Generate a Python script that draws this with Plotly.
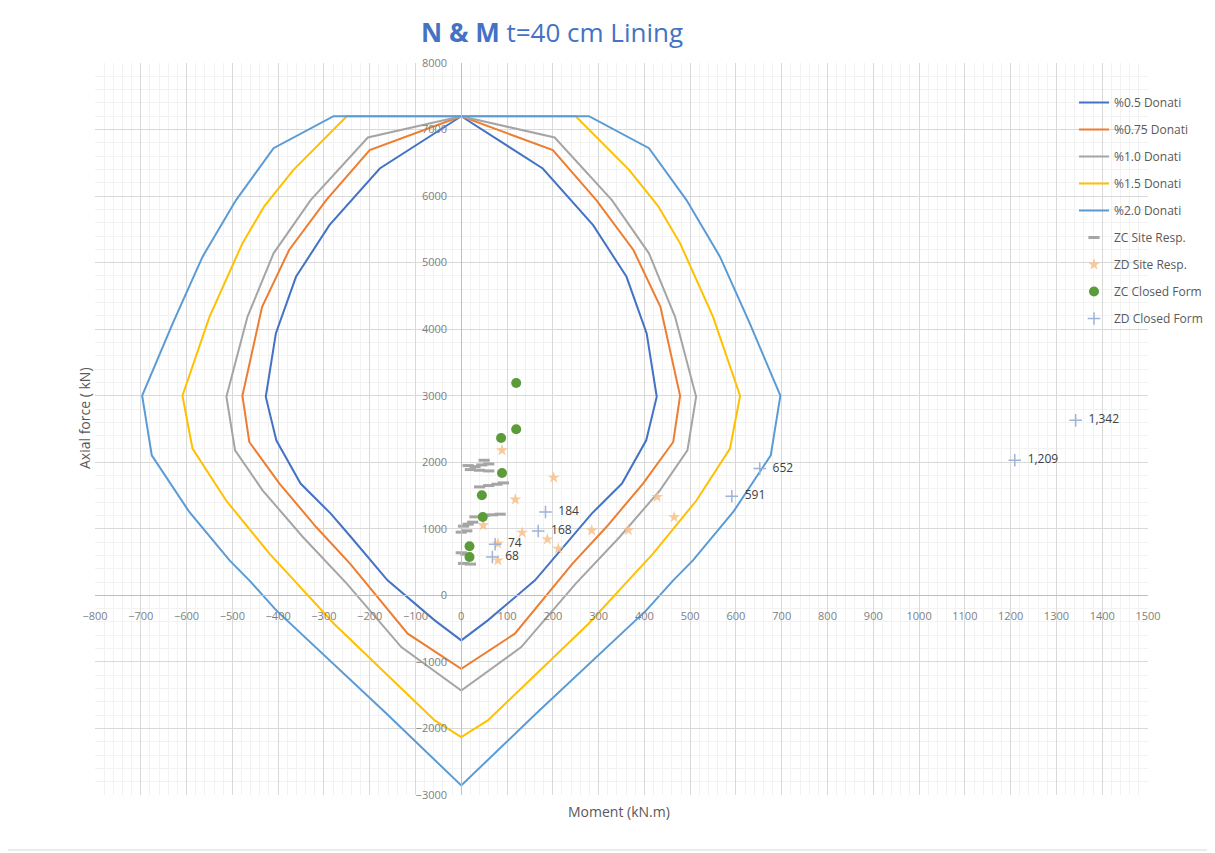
import plotly.graph_objects as go

# ---------------- data ----------------
# Interaction curves: Moment (kN.m) / Axial force (kN)
M_05 = [0, 178, 288, 361, 405, 427, 404, 351, 285, 241, 161, 58, 0, -58, -161, -241, -285, -351, -404, -427, -405, -361, -288, -178, 0]
N_05 = [7200, 6415, 5564, 4787, 3935, 2985, 2330, 1680, 1228, 877, 226, -376, -677, -376, 226, 877, 1228, 1680, 2330, 2985, 3935, 4787, 5564, 6415, 7200]

M_075 = [0, 200, 295, 376, 435, 478, 463, 397, 317, 243, 117, 0, -117, -243, -317, -397, -463, -478, -435, -376, -295, -200, 0]
N_075 = [7200, 6690, 5940, 5190, 4335, 3000, 2305, 1680, 1027, 476, -576, -1103, -576, 476, 1027, 1680, 2305, 3000, 4335, 5190, 5940, 6690, 7200]

M_10 = [0, 204, 329, 410, 467, 513, 494, 434, 346, 250, 131, 0, -131, -250, -346, -434, -494, -513, -467, -410, -329, -204, 0]
N_10 = [7200, 6880, 5940, 5140, 4185, 2985, 2180, 1579, 877, 176, -777, -1429, -777, 176, 877, 1579, 2180, 2985, 4185, 5140, 5940, 6880, 7200]

M_15 = [0, 250, 367, 430, 478, 550, 609, 587, 514, 419, 365, 278, 58, 0, -58, -278, -365, -419, -514, -587, -609, -550, -478, -430, -367, -250, 0]
N_15 = [7200, 7200, 6390, 5850, 5290, 4185, 3000, 2206, 1429, 627, 226, -426, -1880, -2130, -1880, -426, 226, 627, 1429, 2206, 3000, 4185, 5290, 5850, 6390, 7200, 7200]

M_20 = [0, 279, 410, 492, 565, 630, 697, 676, 594, 506, 463, 404, 163, 0, -163, -404, -463, -506, -594, -676, -697, -630, -565, -492, -410, -279, 0]
N_20 = [7200, 7200, 6720, 5940, 5090, 4090, 3000, 2105, 1253, 526, 226, -226, -1779, -2857, -1779, -226, 226, 526, 1253, 2105, 3000, 4090, 5090, 5940, 6720, 7200, 7200]

# Analysis results
ZC_site_M = [15, 30, 45, 60, 50, 20, 40, 60, 40, 60, 78, 92, 30, 50, 68, 85, 5, 15, 25, 0, 12, 0, 10, 5, 20]
ZC_site_N = [1950, 1935, 1960, 1975, 2030, 1890, 1880, 1870, 1630, 1650, 1670, 1690, 1180, 1200, 1210, 1220, 1040, 1070, 1100, 950, 970, 640, 620, 480, 470]

ZD_site_M = [89, 202, 118, 48, 133, 188, 212, 80, 80, 285, 365, 428, 465]
ZD_site_N = [2180, 1770, 1440, 1053, 943, 842, 702, 777, 526, 977, 980, 1480, 1175]

ZC_closed_M = [120, 120, 87, 89, 45, 47, 18, 18]
ZC_closed_N = [3192, 2496, 2366, 1840, 1504, 1178, 737, 576]

ZD_closed_M = [74, 68, 184, 168, 591, 652, 1209, 1342]
ZD_closed_N = [767, 576, 1253, 967, 1490, 1905, 2030, 2630]

curve_names = ["%0.5 Donati", "%0.75 Donati", "%1.0 Donati", "%1.5 Donati", "%2.0 Donati"]
curve_colors = ["#4472C4", "#ED7D31", "#A5A5A5", "#FFC000", "#5B9BD5"]
curves = [(M_05, N_05), (M_075, N_075), (M_10, N_10), (M_15, N_15), (M_20, N_20)]

X_RANGE = [-800, 1500]
Y_RANGE = [-3000, 8000]

FONT = "Open Sans"

# plot-area geometry in page pixels (page has an 8px body offset)
PL, PT, PW, PH = 95, 63, 1053, 732
OFF = 8
ML, MT = PL - OFF, PT - OFF
MR = 1215 - ML - PW
MB = 853 - MT - PH


def px(xp):
    return (xp - PL) / PW


def py(yp):
    return (PT + PH - yp) / PH


fig = go.Figure()

for i, ((m, n), name, col) in enumerate(zip(curves, curve_names, curve_colors)):
    fig.add_trace(go.Scatter(x=m, y=n, mode="lines", name=name,
                             line=dict(color=col, width=2),
                             legendgroup=f"g{i}"))

fig.add_trace(go.Scatter(x=ZC_site_M, y=ZC_site_N, mode="markers", name="ZC Site Resp.",
                         marker=dict(symbol="line-ew", size=8,
                                     line=dict(color="#A5A5A5", width=3), color="#A5A5A5"),
                         legendgroup="g5"))
fig.add_trace(go.Scatter(x=ZD_site_M, y=ZD_site_N, mode="markers", name="ZD Site Resp.",
                         marker=dict(symbol="star", size=9, color="#F7C08A", opacity=0.85),
                         legendgroup="g6"))
fig.add_trace(go.Scatter(x=ZC_closed_M, y=ZC_closed_N, mode="markers", name="ZC Closed Form",
                         marker=dict(symbol="circle", size=10, color="#5B9B3A"),
                         legendgroup="g7"))
fig.add_trace(go.Scatter(x=ZD_closed_M, y=ZD_closed_N, mode="markers+text", name="ZD Closed Form",
                         marker=dict(symbol="cross-thin-open", size=9, color="#9DB3D8",
                                     line=dict(color="#9DB3D8", width=1.5)),
                         texttemplate="\u00a0\u00a0%{x:,.0f}", textposition="middle right",
                         textfont=dict(family=FONT, size=12, color="#404040"),
                         cliponaxis=False, legendgroup="g8"))

axis_common = dict(
    showgrid=True, gridcolor="#D9D9D9", gridwidth=1,
    zeroline=False, showline=True, linecolor="#BFBFBF", linewidth=1,
    ticks="", tickfont=dict(family=FONT, size=11, color="#7F7F7F"),
    anchor="free", fixedrange=True,
)

fig.update_layout(
    width=1215, height=853,
    margin=dict(l=ML, r=MR, t=MT, b=MB, autoexpand=False),
    paper_bgcolor="white", plot_bgcolor="white",
    title=dict(text="<b>N & M</b> t=40 cm Lining", x=(552 - OFF) / 1215, xanchor="center",
               xref="container", y=1 - (33 - OFF) / 853, yanchor="middle", yref="container",
               font=dict(family=FONT, size=26, color="#4472C4")),
    xaxis=dict(range=X_RANGE, dtick=100, tick0=-800,
               position=(0 - Y_RANGE[0]) / (Y_RANGE[1] - Y_RANGE[0]),
               minor=dict(dtick=20, showgrid=True, gridcolor="#F2F2F2"),
               ticklabelstandoff=10, **axis_common),
    yaxis=dict(range=Y_RANGE, dtick=1000, tick0=-3000,
               position=(0 - X_RANGE[0]) / (X_RANGE[1] - X_RANGE[0]),
               minor=dict(dtick=200, showgrid=True, gridcolor="#F2F2F2"),
               ticklabelstandoff=12, **axis_common),
    legend=dict(x=px(1074), y=py(88), xanchor="left", yanchor="top",
                bgcolor="rgba(0,0,0,0)", tracegroupgap=8, itemwidth=30,
                font=dict(family=FONT, size=12, color="#595959")),
    showlegend=True,
    annotations=[
        dict(text="Axial force ( kN)", xref="paper", yref="paper",
             x=px(84), y=py(418), textangle=-90,
             showarrow=False, xanchor="center", yanchor="middle",
             font=dict(family=FONT, size=14, color="#595959")),
        dict(text="Moment (kN.m)", xref="paper", yref="paper",
             x=px(619), y=py(811), showarrow=False,
             xanchor="center", yanchor="middle",
             font=dict(family=FONT, size=14, color="#595959")),
    ],
    shapes=[dict(type="rect", xref="paper", yref="paper",
                 x0=px(2), x1=px(1212), y0=py(850), y1=py(2),
                 line=dict(color="#D9D9D9", width=1), layer="below")],
)

fig.write_html("out.html")
